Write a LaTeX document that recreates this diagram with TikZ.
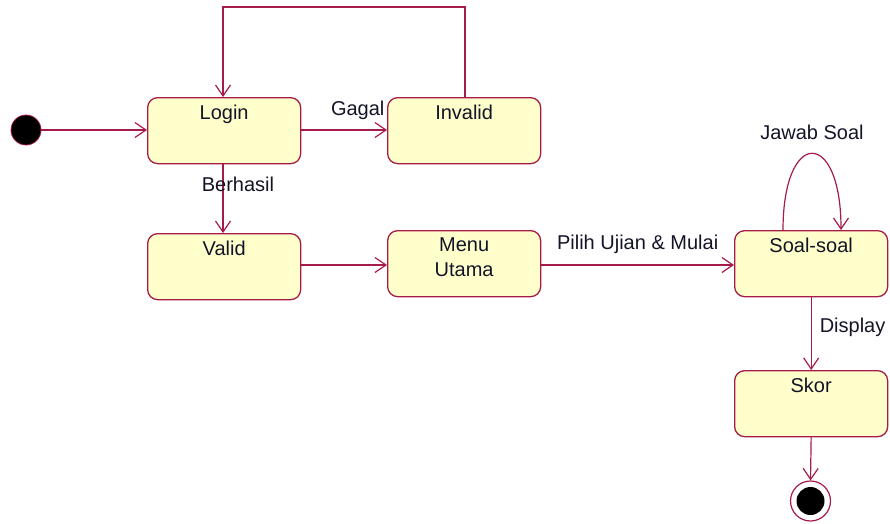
\documentclass[tikz,border=0pt]{standalone}
\usepackage{fontspec}
\setmainfont{Liberation Sans}
\usetikzlibrary{arrows.meta}

\definecolor{umlline}{RGB}{165,28,72}
\definecolor{umlfill}{RGB}{255,255,204}
\definecolor{umltext}{RGB}{20,20,40}

\tikzset{
  statebox/.style={draw=umlline, fill=umlfill, line width=1.3pt,
    rounded corners=10pt, minimum width=153pt, minimum height=66pt,
    inner sep=0pt, anchor=north west},
  statename/.style={anchor=base, yshift=-22pt, inner sep=0pt,
    text=umltext, font=\fontsize{20}{25}\selectfont, align=center},
  trans/.style={draw=umlline, line width=1.2pt,
    -{Straight Barb[length=11pt,width=15pt,line width=1.2pt]}},
  edgelabel/.style={inner sep=0pt, text=umltext,
    font=\fontsize{20}{25}\selectfont},
}

\begin{document}
\begin{tikzpicture}[x=1pt,y=-1pt]
  \useasboundingbox (0,0) rectangle (890,523);

  % initial and final pseudo-states
  \node[circle, fill=black, draw=umlline, line width=0.8pt, minimum size=30pt,
        inner sep=0pt] (start) at (26,130) {};
  \node[circle, draw=umlline, fill=white, line width=1.2pt, minimum size=40pt,
        inner sep=0pt] (stop) at (810.5,501) {};
  \node[circle, fill=black, minimum size=28pt, inner sep=0pt] (stopdot) at (810.5,501) {};

  % states
  \node[statebox, label={[statename]north:Login}] (login) at (147,97) {};
  \node[statebox, label={[statename]north:Invalid}] (invalid) at (387,97) {};
  \node[statebox, label={[statename]north:Valid}] (valid) at (147,233) {};
  \node[statebox, label={[statename, yshift=-24pt]north:Menu\\Utama}] (menu) at (387,230) {};
  \node[statebox, label={[statename]north:Soal-soal}] (soal) at (734,230) {};
  \node[statebox, label={[statename]north:Skor}] (skor) at (734,370) {};

  % corner of the return path from Invalid back to Login
  \coordinate (backR) at (465,7);
  \coordinate (backL) at (223,7);

  % transitions
  \draw[trans] (start) -- (login.west |- start);
  \draw[trans] (login.east |- start) --
    node[edgelabel, pos=1, anchor=base east, yshift=15pt, xshift=-2pt] {Gagal}
    (invalid.west |- start);
  \draw[trans] (invalid.north -| backR) -- (backR) -- (backL) -- (login.north -| backL);
  \draw[trans] (login.south -| backL) --
    node[edgelabel, pos=0.4, anchor=base, xshift=15pt] {Berhasil}
    (valid.north -| backL);
  \draw[trans] (valid.east |- 0,265) -- (menu.west |- 0,265);
  \draw[trans] (menu.east |- 0,265) --
    node[edgelabel, midway, anchor=base, yshift=16pt] {Pilih Ujian \& Mulai}
    (soal.west |- 0,265);
  \draw[trans] (soal.north -| 783,0) .. controls (783,128) and (841,128) ..
    node[edgelabel, pos=0.5, anchor=base, yshift=14pt] {Jawab Soal}
    (soal.north -| 841,0);
  \draw[trans] (soal.south) --
    node[edgelabel, pos=0.49, anchor=base west, xshift=8pt] {Display}
    (skor.north);
  \draw[trans] (skor.south) -- (stop.north);
\end{tikzpicture}
\end{document}
